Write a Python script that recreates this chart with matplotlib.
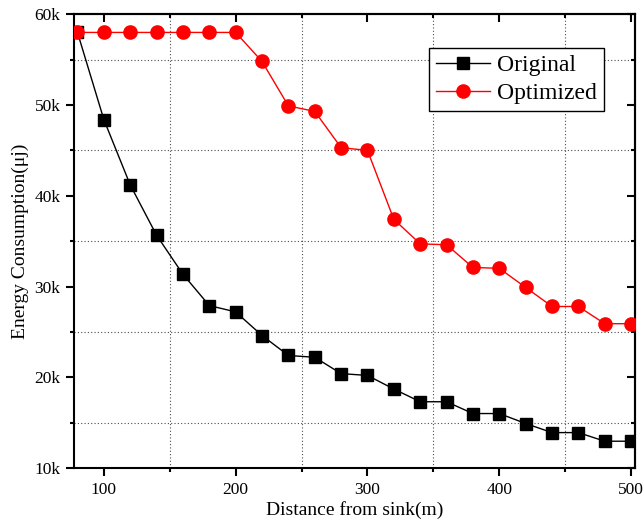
import numpy as np
import matplotlib.pyplot as plt
from matplotlib.ticker import MultipleLocator, FuncFormatter

plt.rcParams['font.family'] = ['Liberation Serif', 'DejaVu Serif']
plt.rcParams['mathtext.fontset'] = 'stix'

# distance from sink (m)
distance = [80, 100, 120, 140, 160, 180, 200, 220, 240, 260, 280,
            300, 320, 340, 360, 380, 400, 420, 440, 460, 480, 500]

# energy consumption per scheme
original = [58000, 48400, 41200, 35650, 31350, 27900, 27200, 24600, 22400, 22200, 20400,
            20200, 18700, 17300, 17300, 16000, 16000, 14900, 13900, 13900, 12950, 12950]
optimized = [58000, 58000, 58000, 58000, 58000, 58000, 58000, 54800, 49900, 49300, 45300,
             45000, 37400, 34700, 34600, 32100, 32000, 29900, 27800, 27800, 25900, 25900]

fig = plt.figure(figsize=(6.44, 5.25), dpi=100)
ax = fig.add_axes([0.1154, 0.1086, 0.8707, 0.8642])

ax.plot(distance, original, color='black', lw=1.0, marker='s', ms=8.5,
        mfc='black', mec='black', label='Original', zorder=3)
ax.plot(distance, optimized, color='red', lw=1.0, marker='o', ms=9.5,
        mfc='red', mec='red', label='Optimized', zorder=3)

ax.set_xlim(77.6, 503)
ax.set_ylim(10000, 60000)

ax.xaxis.set_major_locator(MultipleLocator(100))
ax.xaxis.set_minor_locator(MultipleLocator(50))
ax.yaxis.set_major_locator(MultipleLocator(10000))
ax.yaxis.set_minor_locator(MultipleLocator(5000))
ax.yaxis.set_major_formatter(FuncFormatter(lambda v, p: '%dk' % (v / 1000)))

# dotted grid only on the minor positions
ax.grid(which='minor', linestyle=(0, (1, 2)), color='black', lw=0.8, alpha=0.7)
ax.grid(which='major', visible=False)

for s in ax.spines.values():
    s.set_linewidth(1.5)

ax.tick_params(which='both', direction='out', bottom=True, left=True,
               top=False, right=False, labelsize=12.5, width=1.5, pad=4)
ax.tick_params(which='major', length=6)
ax.tick_params(which='minor', length=3)

# mirrored ticks pointing inward on top and right
secx = ax.secondary_xaxis('top')
secx.xaxis.set_major_locator(MultipleLocator(100))
secx.xaxis.set_minor_locator(MultipleLocator(50))
secx.tick_params(which='both', direction='in', labeltop=False, width=1.5)
secx.tick_params(which='major', length=6)
secx.tick_params(which='minor', length=3)
secx.spines['top'].set_linewidth(1.5)
secy = ax.secondary_yaxis('right')
secy.yaxis.set_major_locator(MultipleLocator(10000))
secy.yaxis.set_minor_locator(MultipleLocator(5000))
secy.tick_params(which='both', direction='in', labelright=False, width=1.5)
secy.tick_params(which='major', length=6)
secy.tick_params(which='minor', length=3)
secy.spines['right'].set_linewidth(1.5)

ax.set_xlabel('Distance from sink(m)', fontsize=14, labelpad=2)
ax.set_ylabel('Energy Consumption(μj)', fontsize=14, labelpad=4)

leg = ax.legend(loc='upper right', bbox_to_anchor=(0.945, 0.926), borderaxespad=0,
                fontsize=17, numpoints=1, fancybox=False, framealpha=1,
                edgecolor='black', handlelength=2.3, handletextpad=0.3,
                borderpad=0.3, labelspacing=0.25)
leg.get_frame().set_linewidth(1.0)

fig.savefig('out.png', dpi=100)
